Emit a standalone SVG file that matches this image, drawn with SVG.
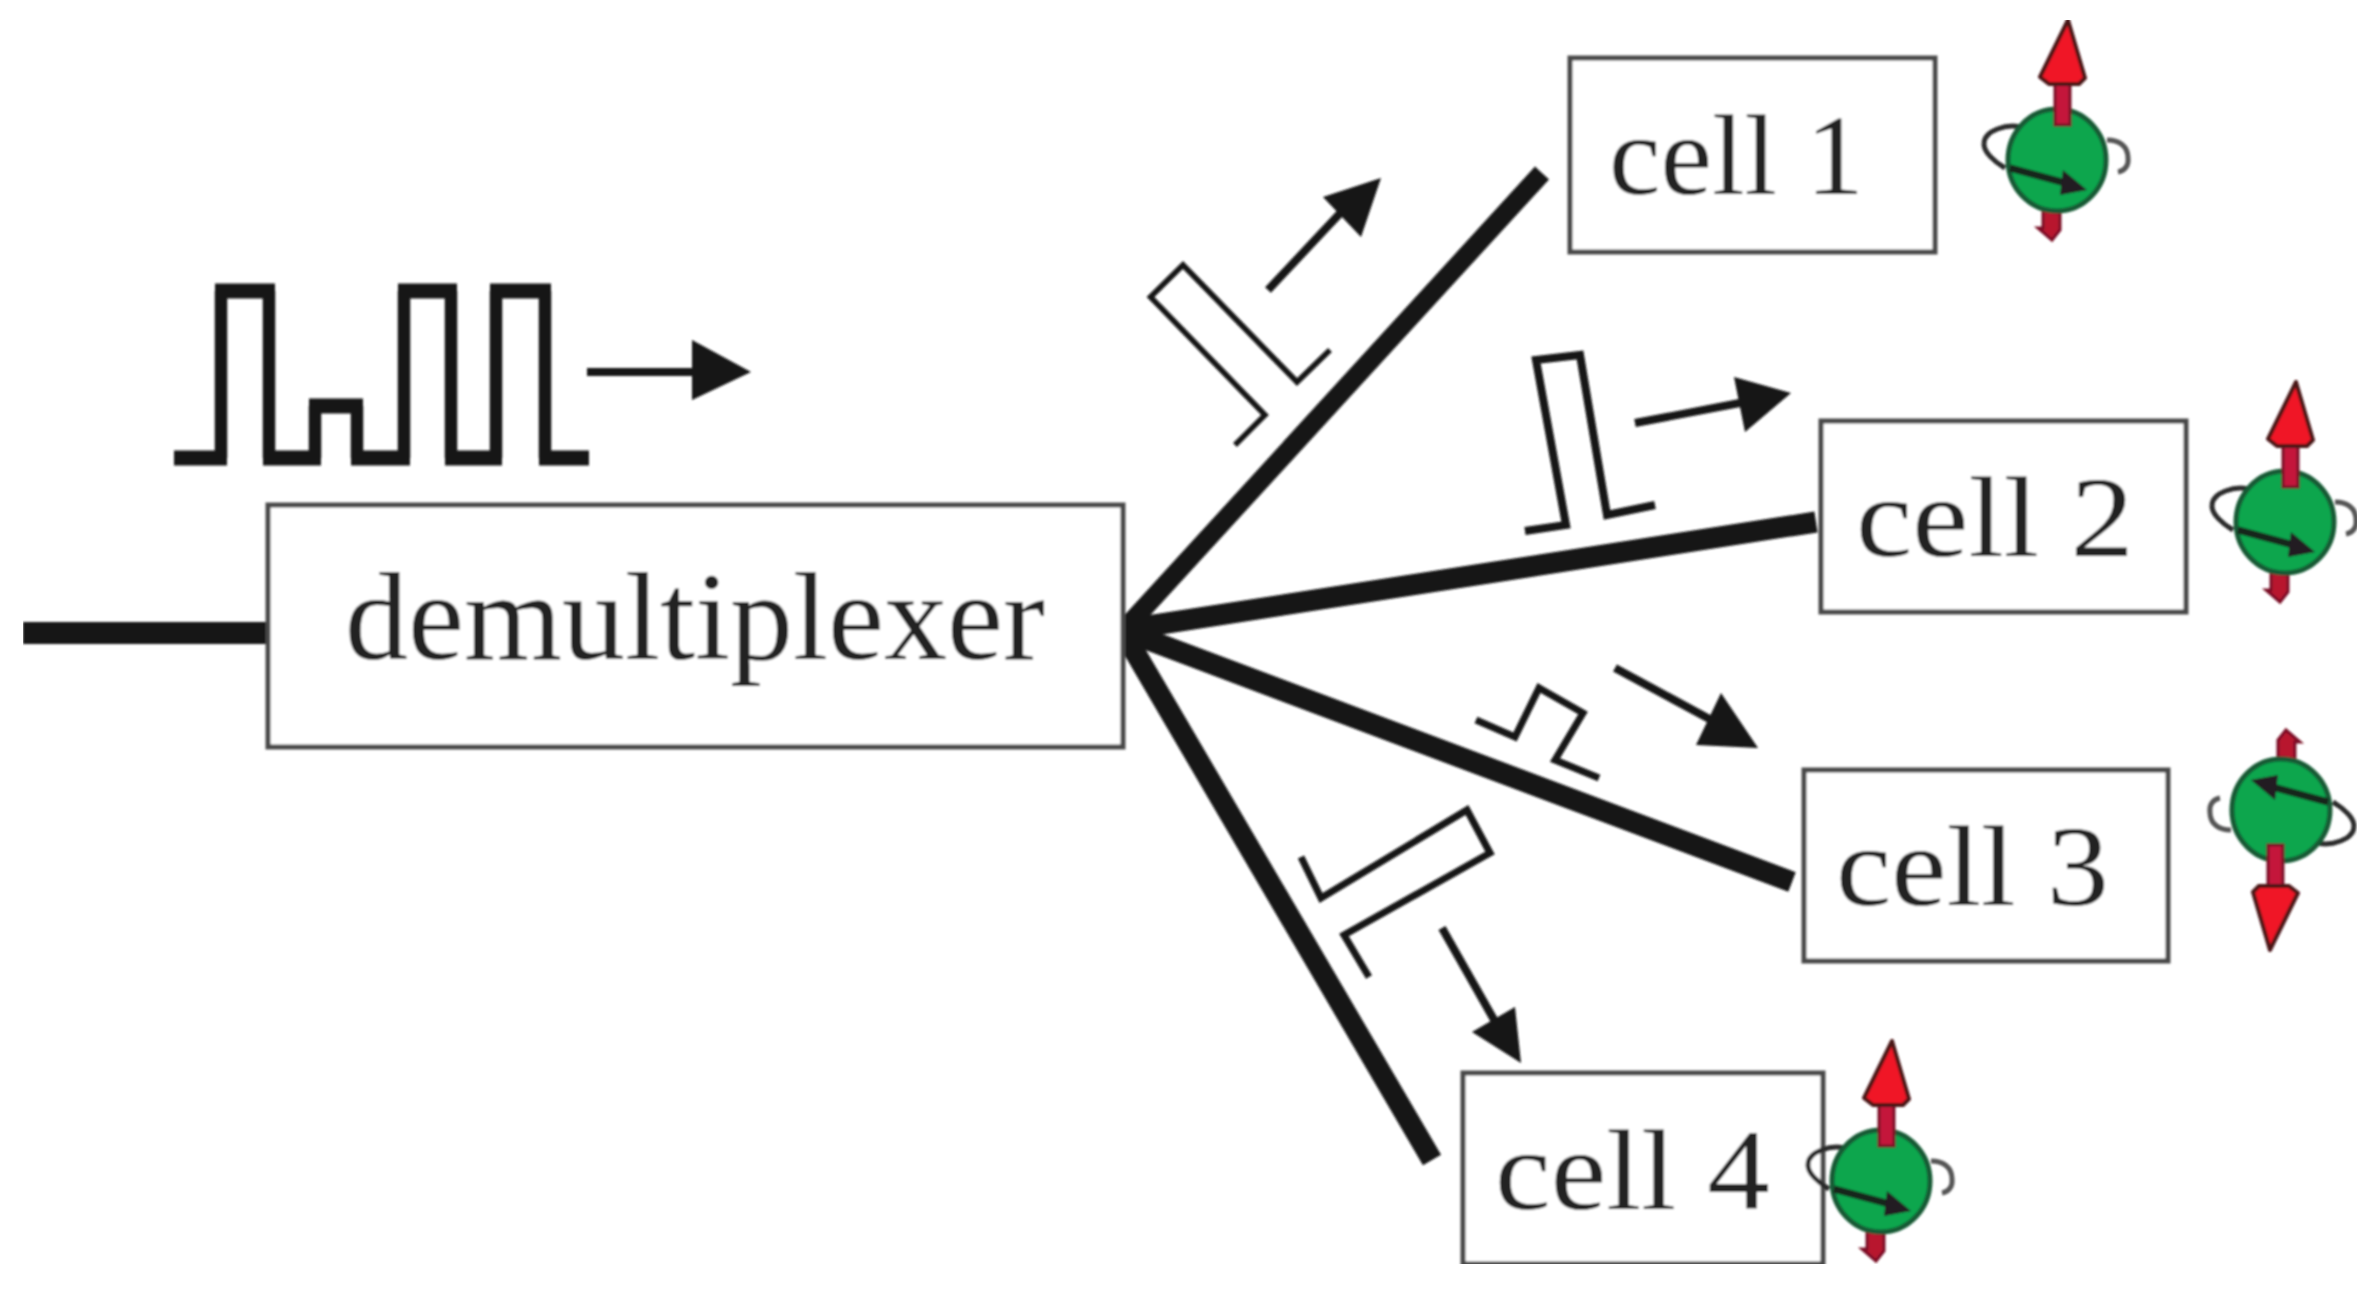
<svg xmlns="http://www.w3.org/2000/svg" width="2376" height="1293" viewBox="0 0 2376 1293">
<style>
.box{fill:#fff;stroke:#4a4a4a;stroke-width:5}
.label{font-family:"Liberation Serif","Times New Roman",serif;fill:#222}
.cell{font-size:114px}
.wire{stroke:#141414;fill:none;stroke-linecap:butt}
.pulse{stroke:#141414;fill:none;stroke-linejoin:miter}
.shaft{stroke:#141414;stroke-width:8;fill:none}
.head{fill:#141414}
</style>
<defs>
<filter id="soft" x="0" y="0" width="100%" height="100%"><feGaussianBlur stdDeviation="0.9"/></filter>
<g id="spin">
<path d="M-14,50V68H-19L-5,80L3,70V50Z" fill="#b8142f" stroke="#7a1028" stroke-width="3"/>
<path d="M-37,-33C-50,-36-72,-30-73,-17C-74,-8-62,2-52,8" fill="none" stroke="#2a2a2a" stroke-width="5"/>
<path d="M50,-20C62,-20 71,-14 71,-2C72,6 67,11 61,12" fill="none" stroke="#555" stroke-width="5"/>
<ellipse cx="0" cy="0" rx="49" ry="51" fill="#0ca64e" stroke="#145a34" stroke-width="5"/>
<path d="M-2,-85H13V-35H-2Z" fill="#c4183a" stroke="#7a1028" stroke-width="3"/>
<path d="M11,-140L-17,-83L-8,-76H22L28,-82Z" fill="#f01428" stroke="#4a1418" stroke-width="4" stroke-linejoin="round"/>
<path d="M-47,8L12,24" stroke="#14261c" stroke-width="7" fill="none"/>
<path d="M6,10L3,35L30,30Z" fill="#241a24"/>
</g>
</defs>
<rect width="2376" height="1293" fill="#fff"/>
<g filter="url(#soft)">
<g id="connectors">
<path class="wire" stroke-width="22" d="M23,633H270"/>
<path class="wire" stroke-width="19" d="M1122,632L1542,173"/>
<path class="wire" stroke-width="21" d="M1122,630L1816,522"/>
<path class="wire" stroke-width="21" d="M1122,630L1792,882"/>
<path class="wire" stroke-width="21" d="M1122,630L1432,1160"/>
</g>
<g id="demultiplexer">
<rect class="box" x="268" y="505" width="855" height="242"/>
<text class="label" x="345" y="659" font-size="124" textLength="700" lengthAdjust="spacingAndGlyphs">demultiplexer</text>
</g>
<g id="cell-1">
<rect class="box" x="1570" y="58" width="365" height="194"/>
<text class="label cell" x="1609" y="194" textLength="255" lengthAdjust="spacingAndGlyphs">cell 1</text>
<use href="#spin" transform="translate(2057,160)"/>
</g>
<g id="cell-2">
<rect class="box" x="1821" y="421" width="365" height="191"/>
<text class="label cell" x="1856" y="556" textLength="278" lengthAdjust="spacingAndGlyphs">cell 2</text>
<use href="#spin" transform="translate(2285,522)"/>
</g>
<g id="cell-3">
<rect class="box" x="1804" y="770" width="364" height="191"/>
<text class="label cell" x="1836" y="905" textLength="273" lengthAdjust="spacingAndGlyphs">cell 3</text>
<use href="#spin" transform="translate(2281,810) rotate(180)"/>
</g>
<g id="cell-4">
<rect class="box" x="1463" y="1073" width="360" height="191"/>
<text class="label cell" x="1495" y="1209" textLength="275" lengthAdjust="spacingAndGlyphs">cell 4</text>
<use href="#spin" transform="translate(1881,1181)"/>
</g>
<g id="pulse-train">
<path class="pulse" stroke-width="12.5" d="M221,458V291M269,291V458M315,458V406M357,406V458M404,458V291M451,291V458M496,458V291M545,291V458"/>
<path class="pulse" stroke-width="15" d="M174,458H227M215,291H275M263,458H321M309,406H363M351,458H410M398,291H457M445,458H502M490,291H551M539,458H589"/>
<path class="shaft" stroke-width="10" d="M587,372H695"/>
<path class="head" d="M692,340L751,372L692,400Z"/>
</g>
<g id="pulse-arrows">
<path class="pulse" stroke-width="5.5" d="M1235,445L1265,415L1150.5,297L1183,265L1297,382L1330,350"/>
<path class="shaft" d="M1268,290L1345,208"/>
<path class="head" d="M1381,178L1323,197L1361,237Z"/>
<path class="pulse" stroke-width="8" d="M1525,531L1566,525L1536,360L1580,355L1607,515L1655,505"/>
<path class="shaft" d="M1635,423L1745,402"/>
<path class="head" d="M1791,393L1734,377L1745,432Z"/>
<path class="pulse" stroke-width="7" d="M1476,720L1515,737L1539,688L1583,713L1555,760L1599,778"/>
<path class="shaft" d="M1615,668L1715,722"/>
<path class="head" d="M1758,748L1721,693L1696,745Z"/>
<path class="pulse" stroke-width="7" d="M1301,857L1321,898L1467,810L1490,853L1344,935L1369,977"/>
<path class="shaft" d="M1442,928L1497,1025"/>
<path class="head" d="M1521,1063L1515,1007L1472,1032Z"/>
</g>
</g>
</svg>
